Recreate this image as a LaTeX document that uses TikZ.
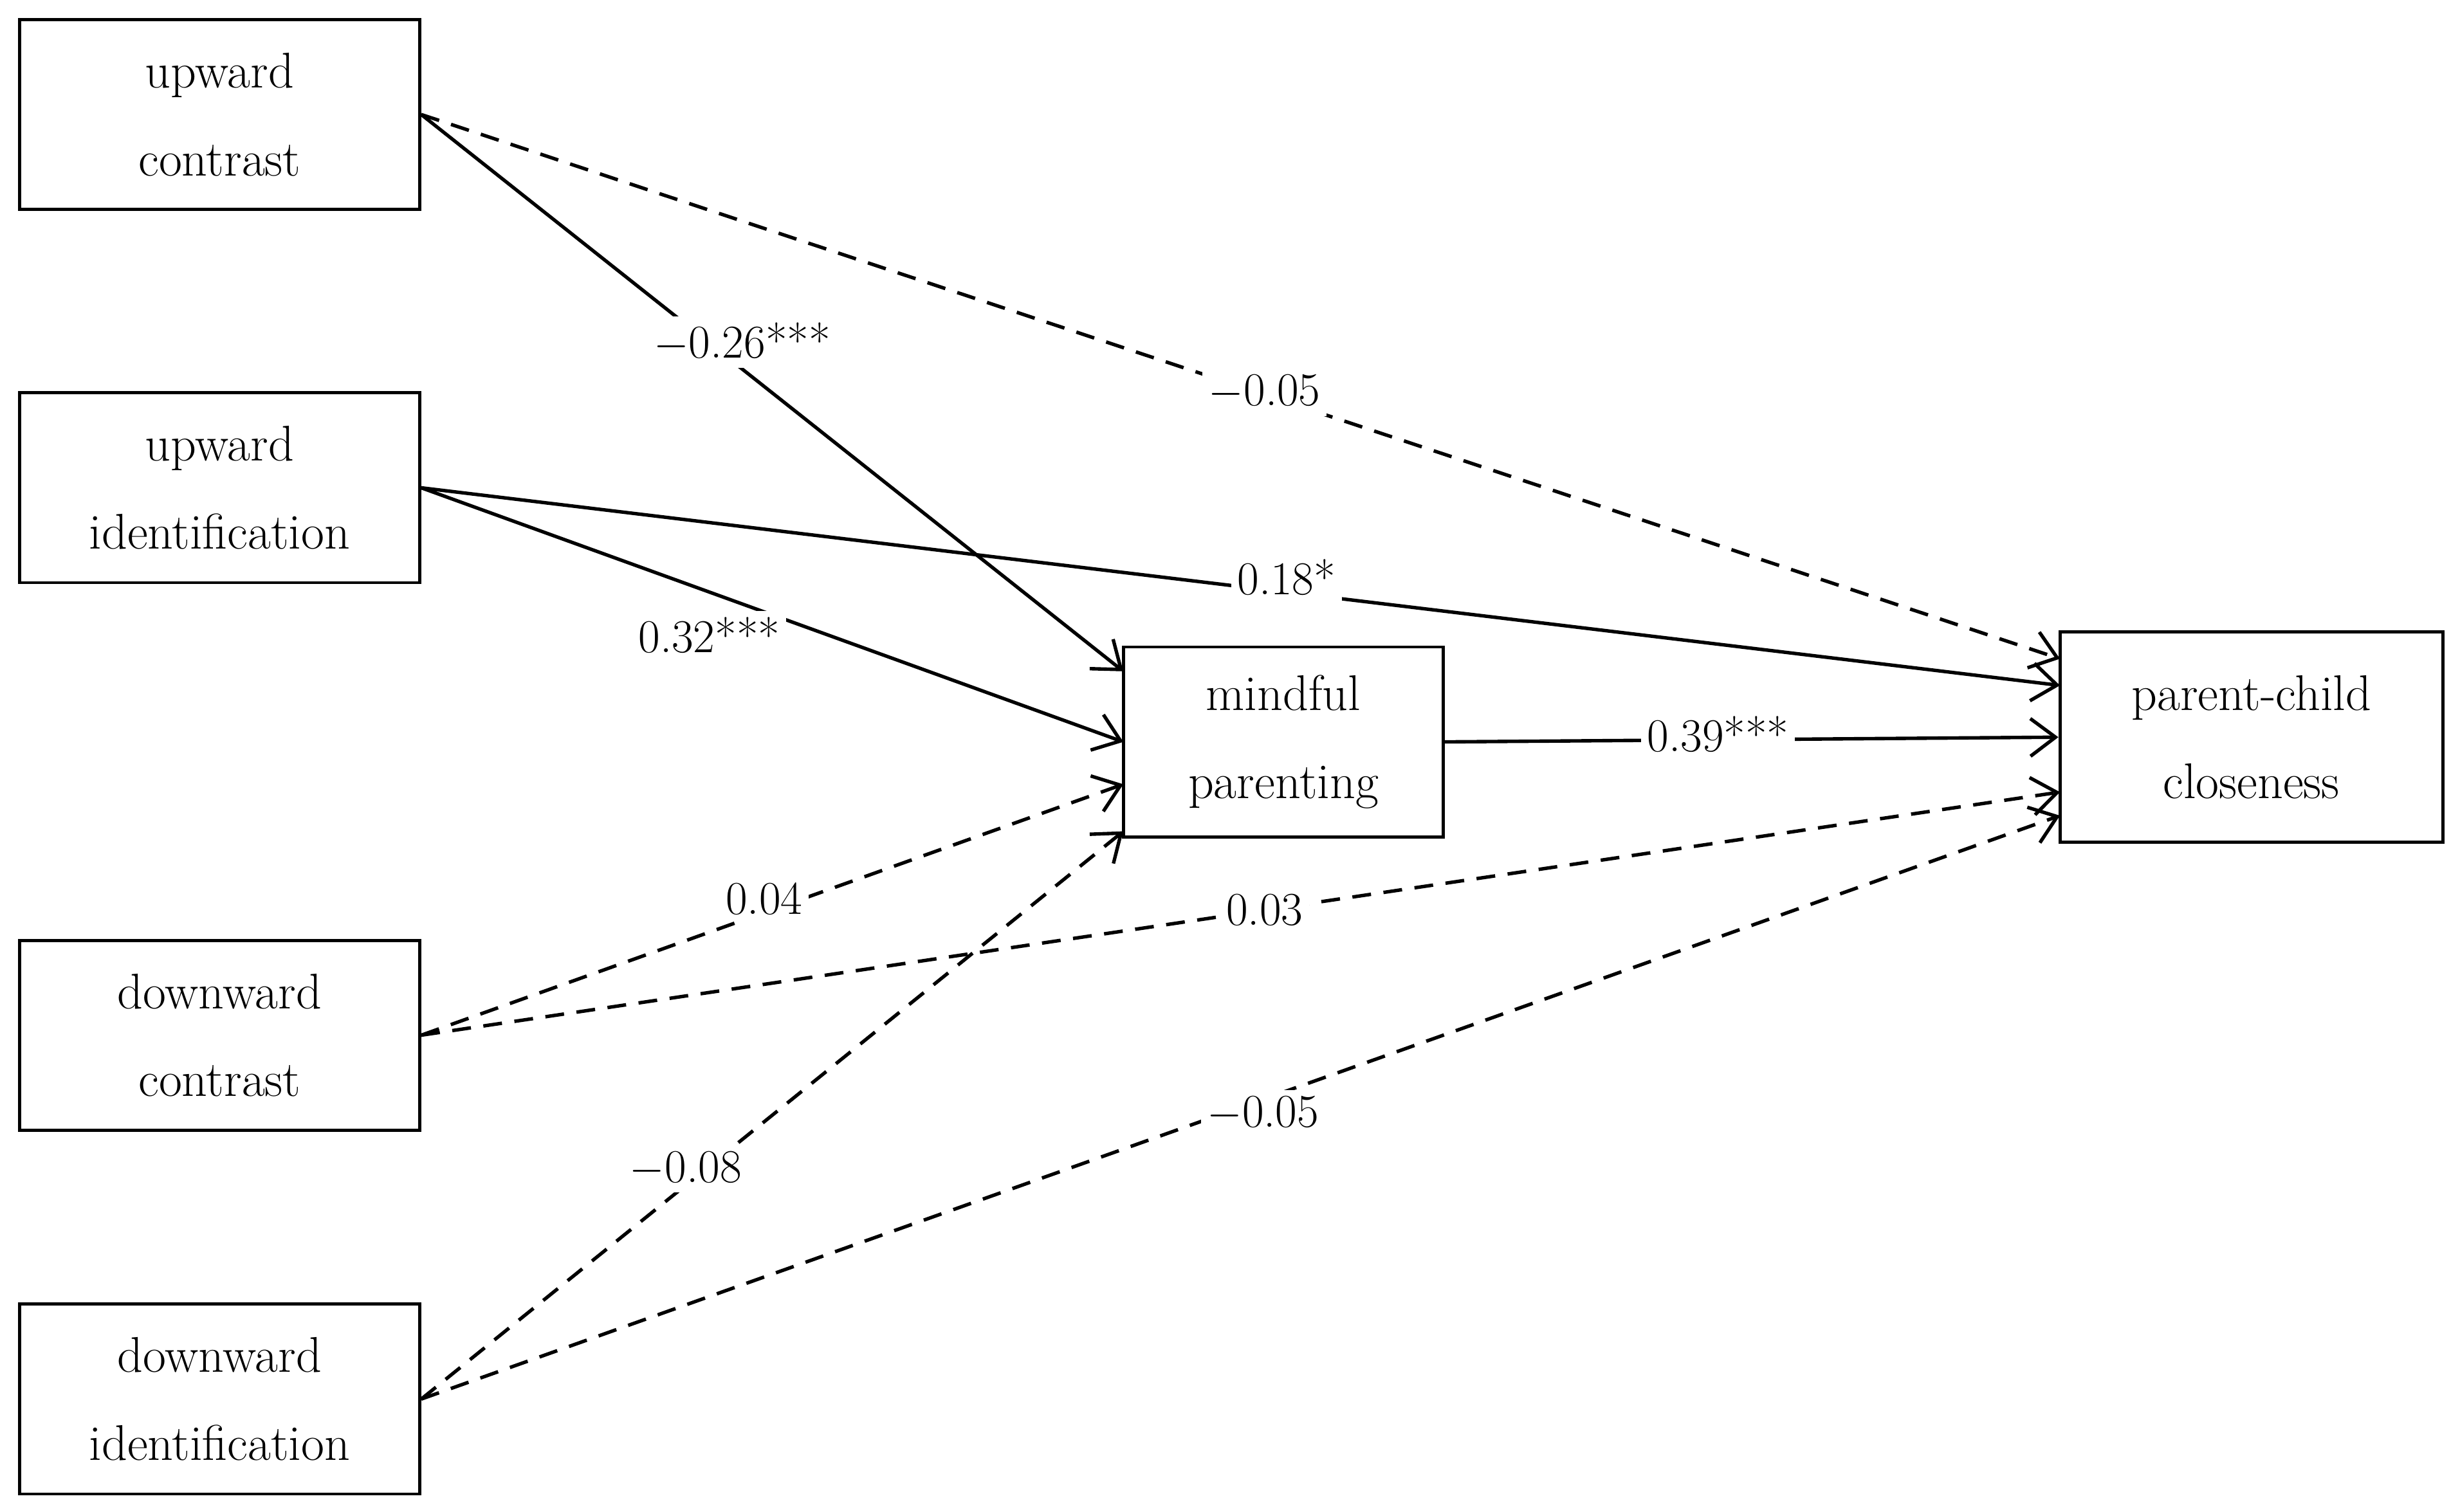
\documentclass[tikz,border=0pt]{standalone}
\usetikzlibrary{arrows.meta}
\tikzset{
  varbox/.style={draw, line width=1pt, minimum width=127.5pt, minimum height=60.5pt, align=center, font=\fontsize{16}{28}\selectfont},
  coef/.style={fill=white, inner sep=2pt, font=\fontsize{15}{18}\selectfont},
  path/.style={line width=1.1pt, -{Straight Barb[length=8pt,width=12pt]}},
  nspath/.style={path, dash pattern={on 6pt off 4pt}}
}
\begin{document}
\begin{tikzpicture}[x=0.5pt,y=0.5pt,yscale=-1]
        \useasboundingbox (0,0) rectangle (1568,964);
        
        % Boxes
        \node [varbox] (uc) at (140,73) {upward\\contrast};
        \node [varbox] (ui) at (140,311) {upward\\identification};
        \node [varbox] (dc) at (140,660) {downward\\contrast};
        \node [varbox] (di) at (140,892) {downward\\identification};
        \node [varbox, minimum width=102pt] (mp) at (818,473) {mindful\\parenting};
        \node [varbox, minimum width=122pt, minimum height=67pt] (pc) at (1435,470) {parent-child\\closeness};
        
        % Arrow ends
        \coordinate (m1) at (716,428);
        \coordinate (m2) at (716,473);
        \coordinate (m3) at (716,500);
        \coordinate (m4) at (716,530);
        \coordinate (p1) at (1313,420);
        \coordinate (p2) at (1313,437);
        \coordinate (p4) at (1313,505);
        \coordinate (p5) at (1313,520);
        
        % Paths
        \draw [path] (uc.east) -- (m1);
        \draw [nspath] (uc.east) -- (p1);
        \draw [path] (ui.east) -- (p2);
        \draw [path] (ui.east) -- (m2);
        \draw [path] (mp.east) -- (pc.west);
        \draw [nspath] (dc.east) -- (m3);
        \draw [nspath] (dc.east) -- (p4);
        \draw [nspath] (di.east) -- (m4);
        \draw [nspath] (di.east) -- (p5);
        
        % Coefficients
        \node [coef] (l1) at (473,218) {$-$0.26***};
        \node [coef] (l2) at (806,250) {$-$0.05};
        \node [coef] (l3) at (820,368) {0.18*};
        \node [coef] (l4) at (452,405) {0.32***};
        \node [coef] (l5) at (1095,468) {0.39***};
        \node [coef] (l6) at (487,573) {0.04};
        \node [coef] (l7) at (806,580) {0.03};
        \node [coef] (l8) at (437,745) {$-$0.08};
        \node [coef] (l9) at (805,710) {$-$0.05};
        
\end{tikzpicture}
\end{document}
